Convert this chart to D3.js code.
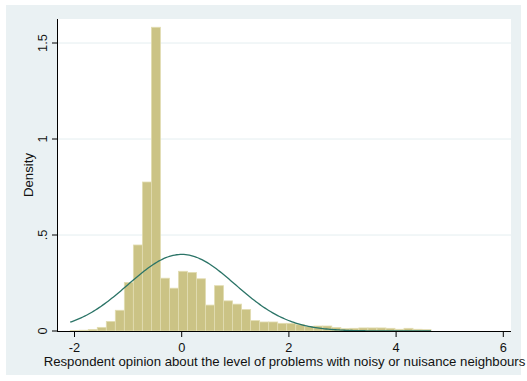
<!DOCTYPE html>
<html>
<head>
<meta charset="utf-8">
<script src="https://cdn.jsdelivr.net/npm/d3@7"></script>
<style>
  body { margin: 0; background: #ffffff; }
  text { font-family: "Liberation Sans", Arial, sans-serif; fill: #111; }
</style>
</head>
<body>
<div id="chart"></div>
<script>
// Histogram of respondent opinion with a normal density overlay

// Bins: start and width (in data units), densities
const binStart = -2.08;
const binWidth = 0.1683;
const densities = [
    0.002, 0.004, 0.008, 0.019, 0.05, 0.108, 0.253, 0.448, 0.776, 1.582,
    0.275, 0.223, 0.311, 0.305, 0.272, 0.135, 0.236, 0.157, 0.14, 0.112,
    0.054, 0.047, 0.047, 0.04, 0.04, 0.033, 0.023, 0.026, 0.026, 0.018,
    0.012, 0.014, 0.016, 0.016, 0.016, 0.014, 0.009, 0.014, 0.009, 0.007
];

// Normal curve parameters
const normMean = 0;
const normSd = 1;

// Ticks
const xTicks = [-2, 0, 2, 4, 6];
const xTickLabels = ["-2", "0", "2", "4", "6"];
const yTicks = [0, 0.5, 1, 1.5];
const yTickLabels = ["0", ".5", "1", "1.5"];

const xLabel = "Respondent opinion about the level of problems with noisy or nuisance neighbours";
const yLabel = "Density";

const width = 527;
const height = 381;

// plot region
const plotLeft = 57, plotRight = 511, plotTop = 19, plotBottom = 331;

const svg = d3.select("#chart")
    .append("svg")
    .attr("width", width)
    .attr("height", height);

// outer graph region
svg.append("rect")
    .attr("x", 6).attr("y", 5)
    .attr("width", 515).attr("height", 370)
    .attr("fill", "#eaf1f3");

svg.append("rect")
    .attr("x", plotLeft).attr("y", plotTop)
    .attr("width", plotRight - plotLeft).attr("height", plotBottom - plotTop)
    .attr("fill", "#ffffff");

const x = d3.scaleLinear()
    .domain([-2, 6])
    .range([74.5, 503.3]);

const y = d3.scaleLinear()
    .domain([0, 1.5])
    .range([plotBottom, 43]);

// grid lines
svg.selectAll(".grid")
    .data(yTicks.filter(d => d > 0))
    .join("line")
    .attr("class", "grid")
    .attr("x1", plotLeft).attr("x2", plotRight)
    .attr("y1", d => y(d)).attr("y2", d => y(d))
    .attr("stroke", "#e4eef0")
    .attr("stroke-width", 1);

// bars
svg.selectAll(".bar")
    .data(densities)
    .join("rect")
    .attr("class", "bar")
    .attr("x", (d, i) => x(binStart + i * binWidth))
    .attr("width", (d, i) => x(binStart + (i + 1) * binWidth) - x(binStart + i * binWidth))
    .attr("y", d => y(d))
    .attr("height", d => y(0) - y(d))
    .attr("fill", "#cbc385")
    .attr("stroke", "#e2ddb2")
    .attr("stroke-width", 0.8);

// normal density
const binEnd = binStart + densities.length * binWidth;
const curve = d3.range(binStart, binEnd + 0.0001, (binEnd - binStart) / 200)
    .map(v => [v, Math.exp(-0.5 * ((v - normMean) / normSd) ** 2) / (normSd * Math.sqrt(2 * Math.PI))]);

svg.append("path")
    .datum(curve)
    .attr("fill", "none")
    .attr("stroke", "#2b7467")
    .attr("stroke-width", 1.3)
    .attr("d", d3.line().x(d => x(d[0])).y(d => y(d[1])));

// x axis
svg.append("line")
    .attr("x1", plotLeft).attr("x2", plotRight)
    .attr("y1", plotBottom + 0.5).attr("y2", plotBottom + 0.5)
    .attr("stroke", "#000").attr("stroke-width", 1);

svg.selectAll(".xtick")
    .data(xTicks)
    .join("line")
    .attr("class", "xtick")
    .attr("x1", d => x(d)).attr("x2", d => x(d))
    .attr("y1", plotBottom).attr("y2", plotBottom + 6)
    .attr("stroke", "#000");

svg.selectAll(".xlab")
    .data(xTicks)
    .join("text")
    .attr("class", "xlab")
    .attr("x", d => x(d))
    .attr("y", 351.5)
    .attr("text-anchor", "middle")
    .attr("font-size", "12.8px")
    .text((d, i) => xTickLabels[i]);

svg.append("text")
    .attr("x", (plotLeft + plotRight) / 2 + 0.5)
    .attr("y", 365.5)
    .attr("text-anchor", "middle")
    .attr("font-size", "13.2px")
    .text(xLabel);

// y axis
svg.append("line")
    .attr("x1", plotLeft + 0.5).attr("x2", plotLeft + 0.5)
    .attr("y1", plotTop).attr("y2", plotBottom)
    .attr("stroke", "#000").attr("stroke-width", 1);

svg.selectAll(".ytick")
    .data(yTicks)
    .join("line")
    .attr("class", "ytick")
    .attr("x1", plotLeft - 5).attr("x2", plotLeft)
    .attr("y1", d => y(d)).attr("y2", d => y(d))
    .attr("stroke", "#000");

svg.selectAll(".ylab")
    .data(yTicks)
    .join("text")
    .attr("class", "ylab")
    .attr("transform", d => `translate(46.5,${y(d)}) rotate(-90)`)
    .attr("text-anchor", "middle")
    .attr("font-size", "12.8px")
    .text((d, i) => yTickLabels[i]);

svg.append("text")
    .attr("transform", `translate(33,${(plotTop + plotBottom) / 2}) rotate(-90)`)
    .attr("text-anchor", "middle")
    .attr("font-size", "13.2px")
    .text(yLabel);
</script>
</body>
</html>
